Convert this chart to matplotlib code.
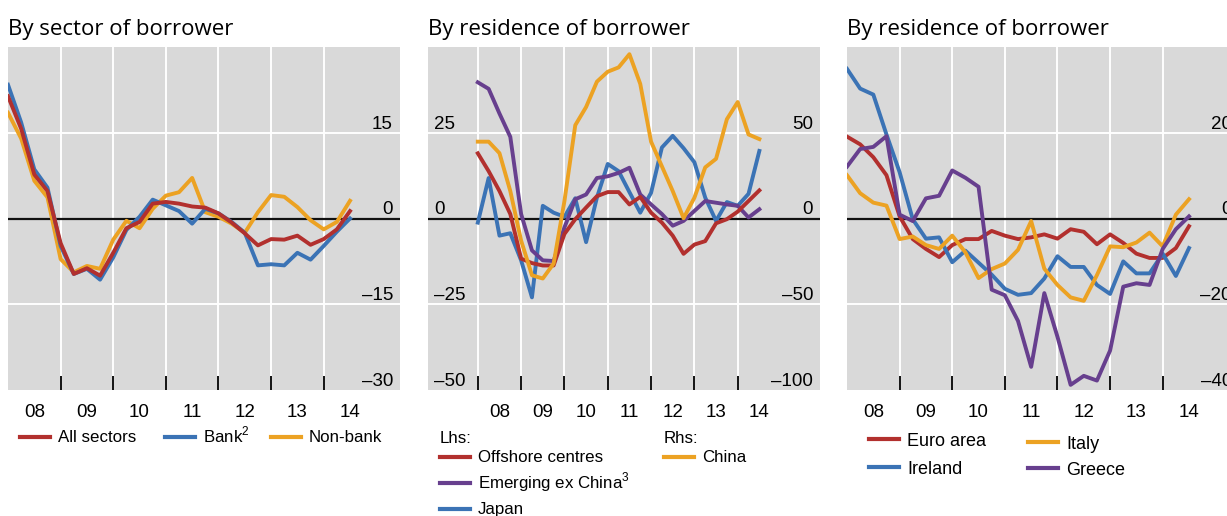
import numpy as np
import matplotlib.pyplot as plt
from matplotlib.lines import Line2D

plt.rcParams['font.family'] = ['Liberation Sans', 'DejaVu Sans']
plt.rcParams['mathtext.fontset'] = 'custom'
plt.rcParams['mathtext.rm'] = 'Liberation Sans'

# quarterly observations, 2008 Q1 .. 2014 Q3
quarters = 2008 + 0.25 * np.arange(27)
year_labels = ['08', '09', '10', '11', '12', '13', '14']

# left panel: by sector of borrower
all_sectors = [21.4, 15.7, 7.7, 4.8, -4.3, -9.7, -8.7, -10.0, -6.0, -1.7, -0.6, 2.6, 2.9, 2.6,
               2.1, 1.9, 0.9, -0.7, -2.6, -4.7, -3.6, -3.7, -3.0, -4.6, -3.6, -1.9, 1.3]
bank = [23.4, 16.8, 8.6, 5.4, -4.8, -9.7, -8.8, -10.7, -6.8, -2.0, 0.3, 3.3, 2.3, 1.3,
        -0.9, 1.7, 0.9, -0.6, -2.5, -8.2, -8.0, -8.2, -6.0, -7.2, -4.8, -2.3, 0.0]
non_bank = [18.5, 14.0, 6.6, 3.7, -7.1, -9.4, -8.3, -8.8, -3.7, -0.4, -1.7, 1.7, 4.0, 4.6,
            7.1, 1.1, 0.3, -0.9, -2.5, 1.1, 4.1, 3.8, 2.0, -0.3, -1.9, -0.6, 3.1]

# middle panel: by residence of borrower (lhs) and China (rhs)
offshore = [19.0, 13.8, 8.0, 1.3, -11.7, -13.0, -13.7, -13.7, -4.5, -0.2, 3.2, 6.5, 7.7, 7.7,
            4.1, 6.3, 1.7, -1.2, -5.0, -10.3, -7.6, -6.6, -1.4, -0.2, 2.0, 5.1, 8.2]
emerging_ex_china = [39.7, 37.8, 30.6, 23.8, 1.3, -9.3, -12.2, -12.4, -2.6, 5.6, 7.0, 11.8, 12.3, 13.3,
                     14.8, 7.0, 4.1, 1.3, -2.1, -0.7, 2.2, 5.1, 4.6, 4.1, 3.7, 0.3, 2.7]
japan = [-1.2, 11.8, -5.0, -4.3, -12.2, -23.0, 3.7, 1.7, 0.5, 5.9, -6.9, 6.1, 15.9, 13.8,
         7.7, 1.7, 7.5, 20.7, 24.1, 20.5, 16.4, 6.1, -0.7, 4.8, 3.7, 7.2, 19.7]
china = [44.8, 44.8, 38.1, 16.0, -12.9, -33.1, -35.0, -26.3, 10.2, 54.4, 65.0, 79.8, 85.6, 88.1,
         95.8, 78.5, 44.8, 30.4, 16.0, 0.2, 12.1, 29.8, 34.8, 57.9, 67.9, 49.0, 46.3]

# right panel: euro area countries
euro_area = [19.1, 17.3, 14.3, 10.1, 0.5, -4.8, -7.1, -9.0, -6.2, -4.8, -4.8, -2.9, -4.0, -4.8,
             -4.4, -3.7, -4.7, -2.5, -3.1, -6.0, -3.7, -5.7, -8.2, -9.2, -9.2, -6.9, -1.8]
ireland = [34.9, 30.3, 28.9, 19.6, 10.8, -0.2, -4.7, -4.4, -10.2, -7.5, -10.3, -13.1, -16.4, -17.8,
           -17.4, -14.0, -8.8, -11.3, -11.3, -15.5, -17.6, -10.0, -12.8, -12.8, -8.2, -13.4, -6.9]
italy = [10.1, 5.9, 3.7, 3.0, -4.8, -4.2, -6.2, -7.1, -4.0, -7.9, -13.9, -11.8, -10.5, -7.3,
         -0.6, -11.7, -15.5, -18.4, -19.2, -13.2, -6.5, -6.7, -5.6, -3.3, -6.5, 0.9, 4.5]
greece = [12.1, 16.2, 16.7, 19.2, 0.9, -0.6, 4.7, 5.3, 11.2, 9.5, 7.4, -16.6, -17.9, -23.9,
          -34.6, -17.4, -27.6, -38.8, -36.7, -37.8, -30.8, -15.9, -15.1, -15.5, -7.1, -2.5, 0.5]

RED = '#B2302E'
BLUE = '#3B73B5'
YELLOW = '#ECA223'
PURPLE = '#673F8E'
LW = 2.8

W, H = 1227, 516
fig = plt.figure(figsize=(W / 100, H / 100), dpi=100)


def px(x, y):
    return x / W, 1 - y / H


def make_axes(left_px, xlim, grid_years, ylim, grid_vals):
    ax = fig.add_axes([left_px / W, 1 - 390 / H, 392 / W, 343 / H])
    ax.set_facecolor('#D9D9D9')
    for s in ax.spines.values():
        s.set_visible(False)
    ax.set_xlim(*xlim)
    ax.set_ylim(*ylim)
    ax.set_xticks([int('20' + y) + 0.5 for y in year_labels])
    ax.set_xticklabels(year_labels, fontsize=13.5)
    ax.set_xticks(grid_years, minor=True)
    ax.tick_params(axis='x', which='major', length=0, pad=10)
    ax.tick_params(axis='x', which='minor', direction='in', length=10, width=1.3, color='black')
    ax.set_yticks(grid_vals)
    ax.tick_params(axis='y', length=0, labelleft=False)
    ax.grid(which='minor', axis='x', color='white', lw=1.4)
    ax.grid(which='major', axis='y', color='white', lw=1.4)
    ax.axhline(0, color='#111111', lw=1.6, zorder=1.5)
    ax.set_axisbelow(True)
    return ax


def side_labels(ax, vals, texts, side):
    for v, t in zip(vals, texts):
        if side == 'right':
            ax.annotate(t, xy=(1, v), xycoords=('axes fraction', 'data'), xytext=(-7, 4),
                        textcoords='offset pixels', ha='right', va='baseline', fontsize=13.5)
        else:
            ax.annotate(t, xy=(0, v), xycoords=('axes fraction', 'data'), xytext=(6, 4),
                        textcoords='offset pixels', ha='left', va='baseline', fontsize=13.5)


def legend_entry(x, y, color, label, size=12.2, base_dy=5):
    fig.add_artist(Line2D([x / W, (x + 30) / W], [1 - y / H, 1 - y / H], color=color, lw=3))
    fig.text(*px(x + 38, y + base_dy), label, fontsize=size, va='baseline', ha='left')


# left panel
ax1 = make_axes(8, (2008, 2015.45), [2009, 2010, 2011, 2012, 2013, 2014], (-30, 30), [-15, 15])
ax1.plot(quarters, non_bank, color=YELLOW, lw=LW)
ax1.plot(quarters, bank, color=BLUE, lw=LW)
ax1.plot(quarters, all_sectors, color=RED, lw=LW)
side_labels(ax1, [15, 0, -15, -30], ['15', '0', '–15', '–30'], 'right')
fig.text(*px(8, 35), 'By sector of borrower', fontsize=16, family='Open Sans', va='baseline')
legend_entry(20, 437, RED, 'All sectors')
legend_entry(165, 437, BLUE, 'Bank$^{2}$')
legend_entry(271, 437, YELLOW, 'Non-bank')

# middle panel
ax2 = make_axes(428, (2006.85, 2015.9), [2008, 2009, 2010, 2011, 2012, 2013, 2014], (-50, 50), [-25, 25])
ax2.plot(quarters, japan, color=BLUE, lw=LW)
ax2.plot(quarters, emerging_ex_china, color=PURPLE, lw=LW)
ax2.plot(quarters, offshore, color=RED, lw=LW)
ax2r = ax2.twinx()
for s in ax2r.spines.values():
    s.set_visible(False)
ax2r.set_ylim(-100, 100)
ax2r.set_yticks([])
ax2r.plot(quarters, china, color=YELLOW, lw=LW)
side_labels(ax2, [25, 0, -25, -50], ['25', '0', '–25', '–50'], 'left')
side_labels(ax2, [25, 0, -25, -50], ['50', '0', '–50', '–100'], 'right')
fig.text(*px(428, 35), 'By residence of borrower', fontsize=16, family='Open Sans', va='baseline')
fig.text(*px(440, 443), 'Lhs:', fontsize=12.2, va='baseline')
fig.text(*px(664, 443), 'Rhs:', fontsize=12.2, va='baseline')
legend_entry(440, 457, RED, 'Offshore centres')
legend_entry(440, 483, PURPLE, 'Emerging ex China$^{3}$')
legend_entry(440, 509, BLUE, 'Japan')
legend_entry(664, 457, YELLOW, 'China')

# right panel (runs past the figure edge, as in the source)
ax3 = make_axes(847, (2008, 2015.45), [2009, 2010, 2011, 2012, 2013, 2014], (-40, 40), [-20, 20])
ax3.plot(quarters, euro_area, color=RED, lw=LW)
ax3.plot(quarters, ireland, color=BLUE, lw=LW)
ax3.plot(quarters, italy, color=YELLOW, lw=LW)
ax3.plot(quarters, greece, color=PURPLE, lw=LW)
side_labels(ax3, [20, 0, -20, -40], ['20', '0', '–20', '–40'], 'right')
fig.text(*px(847, 35), 'By residence of borrower', fontsize=16, family='Open Sans', va='baseline')
legend_entry(869, 439, RED, 'Euro area', size=13, base_dy=7)
legend_entry(869, 467, BLUE, 'Ireland', size=13, base_dy=7)
legend_entry(1028, 442, YELLOW, 'Italy', size=13, base_dy=7)
legend_entry(1028, 468, PURPLE, 'Greece', size=13, base_dy=7)

fig.savefig('out.png', dpi=100)
